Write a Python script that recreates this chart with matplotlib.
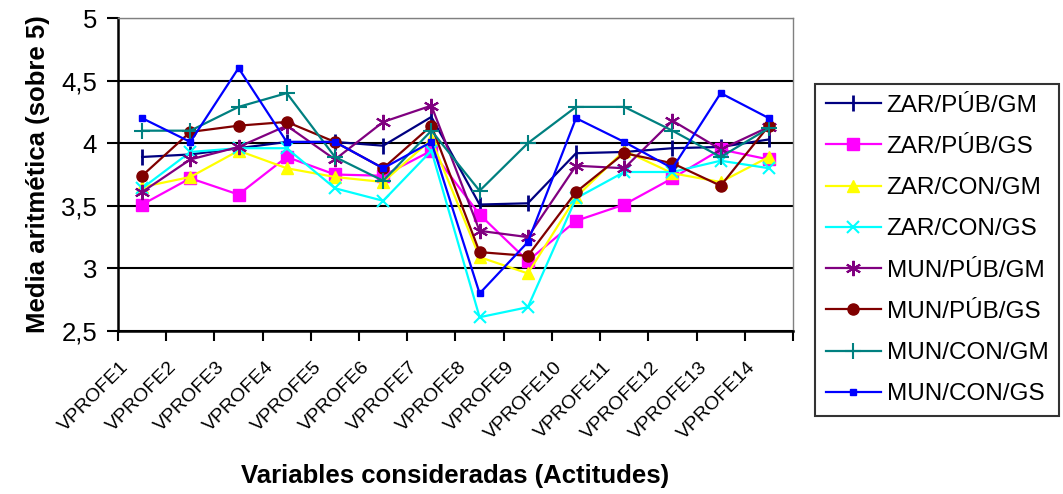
import numpy as np
import matplotlib
matplotlib.use("Agg")
import matplotlib.pyplot as plt
import matplotlib.transforms as mtransforms
from matplotlib.ticker import FixedLocator, FuncFormatter

plt.rcParams["font.family"] = ["Liberation Sans", "DejaVu Sans"]

categorias = [f"VPROFE{i}" for i in range(1, 15)]

zar_pub_gm = [3.89, 3.91, 3.96, 4.01, 4.01, 3.98, 4.21, 3.51, 3.52, 3.92, 3.93, 3.96, 3.97, 4.03]
zar_pub_gs = [3.51, 3.72, 3.59, 3.89, 3.75, 3.74, 3.94, 3.43, 3.06, 3.38, 3.51, 3.72, 3.95, 3.87]
zar_con_gm = [3.65, 3.73, 3.94, 3.80, 3.73, 3.69, 4.03, 3.09, 2.96, 3.57, 3.94, 3.76, 3.69, 3.89]
zar_con_gs = [3.64, 3.93, 3.96, 3.96, 3.64, 3.54, 3.94, 2.61, 2.69, 3.56, 3.77, 3.77, 3.86, 3.80]
mun_pub_gm = [3.61, 3.87, 3.97, 4.14, 3.87, 4.17, 4.30, 3.30, 3.25, 3.82, 3.80, 4.18, 3.95, 4.13]
mun_pub_gs = [3.74, 4.09, 4.14, 4.17, 4.01, 3.80, 4.14, 3.13, 3.10, 3.61, 3.92, 3.84, 3.66, 4.14]
mun_con_gm = [4.10, 4.10, 4.29, 4.40, 3.89, 3.70, 4.10, 3.62, 4.00, 4.29, 4.29, 4.10, 3.89, 4.12]
mun_con_gs = [4.20, 4.01, 4.60, 4.01, 4.01, 3.80, 4.01, 2.80, 3.21, 4.20, 4.01, 3.80, 4.40, 4.20]

series = [
    ("ZAR/PÚB/GM", zar_pub_gm, "#000080", "|", 11, 2.0),
    ("ZAR/PÚB/GS", zar_pub_gs, "#FF00FF", "s", 9, 1.0),
    ("ZAR/CON/GM", zar_con_gm, "#FFFF00", "^", 9, 1.0),
    ("ZAR/CON/GS", zar_con_gs, "#00FFFF", "x", 9, 1.5),
    ("MUN/PÚB/GM", mun_pub_gm, "#800080", (6, 2, 0), 11, 1.5),
    ("MUN/PÚB/GS", mun_pub_gs, "#800000", "o", 8, 1.0),
    ("MUN/CON/GM", mun_con_gm, "#008080", "+", 11, 1.5),
    ("MUN/CON/GS", mun_con_gs, "#0000FF", "s", 5, 1.0),
]

fig = plt.figure(figsize=(10.63, 4.94), dpi=100)
ax = fig.add_axes([118 / 1063, 1 - 331 / 494, (793 - 118) / 1063, (331 - 18) / 494])

x = np.arange(len(categorias)) + 0.5
for name, vals, color, marker, ms, mew in series:
    ax.plot(x, vals, color=color, lw=1.6, marker=marker, markersize=ms,
            markeredgewidth=mew, markerfacecolor=color, markeredgecolor=color,
            label=name)

ax.set_xlim(0, 14)
ax.set_ylim(2.5, 5)
ax.set_yticks([2.5, 3, 3.5, 4, 4.5, 5])
ax.yaxis.set_major_formatter(FuncFormatter(lambda v, p: f"{v:g}".replace(".", ",")))
ax.grid(axis="y", color="black", lw=1.5)
ax.set_axisbelow(True)

ax.xaxis.set_major_locator(FixedLocator(np.arange(0, 15)))
ax.set_xticklabels([], minor=False)
ax.set_xticks(x, minor=True)
ax.set_xticklabels(categorias, minor=True, rotation=45, ha="right",
                   rotation_mode="anchor", fontsize=14)
ax.tick_params(axis="x", which="minor", length=0, pad=12)
ax.tick_params(axis="x", which="major", length=7, width=1.5, direction="out")
ax.tick_params(axis="y", length=8, width=1.5, labelsize=18.5, pad=7)

# shift the rotated labels left and down, as in the original
shift = mtransforms.ScaledTranslation(-22 / 100, -11 / 100, fig.dpi_scale_trans)
for lbl in ax.get_xticklabels(minor=True):
    lbl.set_transform(lbl.get_transform() + shift)

for s in ["left", "bottom"]:
    ax.spines[s].set_linewidth(1.8)
for s in ["top", "right"]:
    ax.spines[s].set_color("#808080")
    ax.spines[s].set_linewidth(1.0)

ax.set_ylabel("Media aritmética (sobre 5)", fontsize=18.5, fontweight="bold", labelpad=8)
fig.text(455 / 1063, 1 - 476 / 494, "Variables consideradas (Actitudes)",
         fontsize=18.5, fontweight="bold", ha="center", va="center")

leg = fig.legend(loc="center left", bbox_to_anchor=(815 / 1063, 1 - 250 / 494),
                 fontsize=17.5, frameon=True, fancybox=False, edgecolor="black",
                 handlelength=2.25, labelspacing=0.79, borderpad=0.45,
                 handletextpad=0.25, borderaxespad=0)
leg.get_frame().set_linewidth(1.5)

fig.savefig("out.png", dpi=100)
